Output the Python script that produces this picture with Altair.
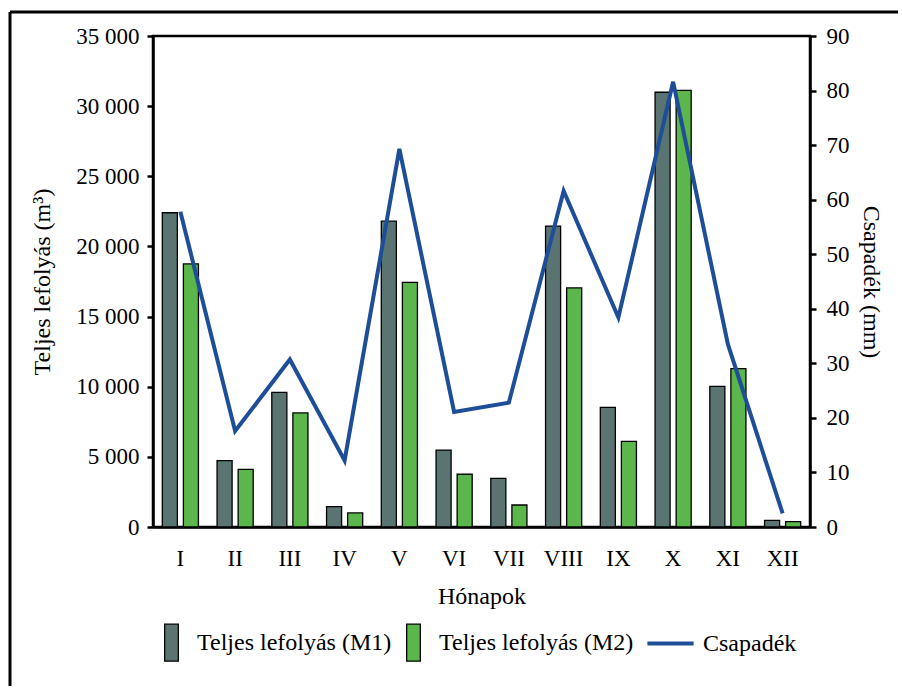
import altair as alt
import pandas as pd

# Monthly totals (m³) for the two models and monthly precipitation (mm)
months = ["I", "II", "III", "IV", "V", "VI", "VII", "VIII", "IX", "X", "XI", "XII"]
runoff_m1 = [22400, 4730, 9600, 1450, 21800, 5480, 3470, 21450, 8530, 30990, 10030, 470]
runoff_m2 = [18750, 4110, 8130, 1000, 17440, 3760, 1570, 17040, 6110, 31130, 11290, 380]
precip = [57.8, 17.6, 30.7, 12.2, 69.3, 21.1, 22.8, 61.6, 38.4, 81.6, 33.5, 2.5]

series_names = ["Teljes lefolyás (M1)", "Teljes lefolyás (M2)"]
precip_name = "Csapadék"

FONT = "Liberation Serif"
C_M1 = "#5a7472"
C_M2 = "#5bb64b"
C_LINE = "#1f4e99"

bar_df = pd.DataFrame(
    {
        "honap": months * 2,
        "sorozat": [series_names[0]] * 12 + [series_names[1]] * 12,
        "ertek": runoff_m1 + runoff_m2,
    }
)
line_df = pd.DataFrame({"honap": months, "csapadek": precip, "nev": [precip_name] * 12})
frame_df = pd.DataFrame({"k": [0]})

x_enc = alt.X(
    "honap:N",
    sort=months,
    title="Hónapok",
    scale=alt.Scale(paddingInner=0.34, paddingOuter=0.17),
    axis=alt.Axis(labelAngle=0, ticks=False, labelPadding=20, titlePadding=14),
)

bars = alt.Chart(bar_df).mark_bar(stroke="black", strokeWidth=1.3).encode(
    x=x_enc,
    xOffset=alt.XOffset(
        "sorozat:N", sort=series_names, scale=alt.Scale(paddingInner=0.286, paddingOuter=0)
    ),
    y=alt.Y(
        "ertek:Q",
        scale=alt.Scale(domain=[0, 35000], nice=False),
        axis=alt.Axis(
            orient="left",
            values=list(range(0, 35001, 5000)),
            labelExpr="replace(format(datum.value, ','), ',', ' ')",
            title="Teljes lefolyás (m³)",
            labelPadding=8,
            titlePadding=21,
        ),
    ),
    fill=alt.Fill(
        "sorozat:N",
        sort=series_names,
        scale=alt.Scale(domain=series_names, range=[C_M1, C_M2]),
        legend=alt.Legend(
            title=None,
            orient="none",
            legendX=-1,
            legendY=587,
            direction="horizontal",
            symbolType="M-0.37,-1H0.37V1H-0.37Z",
            symbolSize=1369,
            symbolStrokeColor="black",
            symbolStrokeWidth=1.3,
            symbolOpacity=1,
            labelOffset=6,
            columnPadding=2,
            labelLimit=400,
            labelFont=FONT,
            labelFontSize=24,
        ),
    ),
)

line = alt.Chart(line_df).mark_line(strokeWidth=4, color=C_LINE).encode(
    x=x_enc,
    y=alt.Y(
        "csapadek:Q",
        scale=alt.Scale(domain=[0, 90], nice=False),
        axis=alt.Axis(
            orient="right",
            values=list(range(0, 91, 10)),
            title="Csapadék (mm)",
            labelPadding=10,
            titlePadding=9,
        ),
    ),
    stroke=alt.Stroke(
        "nev:N",
        scale=alt.Scale(domain=[precip_name], range=[C_LINE]),
        legend=alt.Legend(
            title=None,
            orient="none",
            legendX=497,
            legendY=587,
            direction="horizontal",
            symbolType="M-1.25,0H1.25",
            symbolSize=1369,
            symbolStrokeWidth=4,
            labelOffset=12,
            labelLimit=300,
            labelFont=FONT,
            labelFontSize=24,
        ),
    ),
)

# outer frame (top and left edges)
frame_top = alt.Chart(frame_df).mark_rule(color="black", strokeWidth=3).encode(
    x=alt.value(-143), x2=alt.value(745), y=alt.value(-24)
)
frame_left = alt.Chart(frame_df).mark_rule(color="black", strokeWidth=3).encode(
    x=alt.value(-143), y=alt.value(-24), y2=alt.value(650)
)

chart = (
    alt.layer(bars, line, frame_top, frame_left)
    .resolve_scale(y="independent")
    .properties(
        width=657,
        height=491,
        padding={"left": 8, "top": 10, "right": 0, "bottom": 0},
        background="white",
    )
    .configure(font=FONT)
    .configure_view(stroke="black", strokeWidth=2.5)
    .configure_axis(
        grid=False,
        domainColor="black",
        domainWidth=2.5,
        tickColor="black",
        tickWidth=2.5,
        tickSize=6,
        labelFont=FONT,
        labelFontSize=23,
        labelColor="black",
        titleFont=FONT,
        titleFontSize=24,
        titleFontWeight="normal",
        titleColor="black",
    )
    .configure_legend(
        labelFont=FONT,
        labelFontSize=24,
        labelColor="black",
    )
)

chart.save("out.html", embed_options={"renderer": "svg", "actions": False})
